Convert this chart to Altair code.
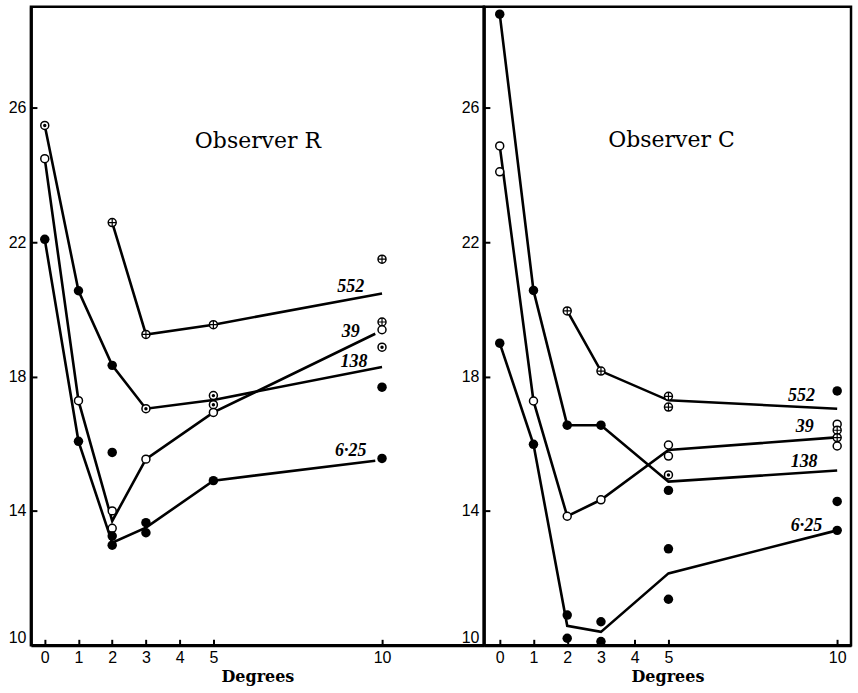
import altair as alt
import pandas as pd

# ---------------- Observer R (left panel) ----------------
R_pts_x = [0, 0, 0,
           1, 1, 1,
           2, 2, 2, 2, 2, 2, 2,
           3, 3, 3, 3, 3,
           5, 5, 5, 5, 5,
           10, 10, 10, 10, 10, 10]
R_pts_y = [25.47, 24.48, 22.08,
           20.55, 17.28, 16.07,
           22.58, 18.33, 15.74, 14.0, 13.48, 13.25, 12.98,
           19.25, 17.04, 15.54, 13.65, 13.35,
           19.54, 17.43, 17.16, 16.93, 14.9,
           21.49, 19.62, 19.39, 18.87, 17.68, 15.56]
R_pts_kind = ["dot", "open", "filled",
              "filled", "open", "filled",
              "plus", "filled", "filled", "open", "open", "filled", "filled",
              "plus", "dot", "open", "filled", "filled",
              "plus", "dot", "dot", "open", "filled",
              "plus", "plus", "open", "dot", "filled", "filled"]

R_line_series = ["552"] * 4 + ["138"] * 6 + ["39"] * 6 + ["6.25"] * 6
R_line_x = [2, 3, 5, 10,
            0, 1, 2, 3, 5, 10,
            0, 1, 2, 3, 5, 9.8,
            0, 1, 2, 3, 5, 9.8]
R_line_y = [22.58, 19.25, 19.54, 20.47,
            25.47, 20.55, 18.33, 17.04, 17.3, 18.28,
            24.48, 17.28, 13.7, 15.54, 16.93, 19.27,
            22.08, 16.07, 13.05, 13.5, 14.9, 15.49]

R_lab_text = ["552", "39", "138", "6·25"]
R_lab_x = [9.07, 9.07, 9.17, 9.07]
R_lab_y = [20.66, 19.32, 18.43, 15.79]

# ---------------- Observer C (right panel) ----------------
C_pts_x = [0, 0, 0, 0,
           1, 1, 1,
           2, 2, 2, 2, 2,
           3, 3, 3, 3, 3,
           5, 5, 5, 5, 5, 5, 5, 5,
           10, 10, 10, 10, 10, 10, 10]
C_pts_y = [28.78, 24.86, 24.09, 18.99,
           20.56, 17.27, 15.98,
           19.95, 16.55, 13.84, 10.9, 10.21,
           18.16, 16.55, 14.33, 10.7, 10.11,
           17.41, 17.09, 15.96, 15.63, 15.07, 14.61, 12.87, 11.37,
           17.57, 16.58, 16.4, 16.18, 15.93, 14.28, 13.42]
C_pts_kind = ["filled", "open", "open", "filled",
              "filled", "open", "filled",
              "plus", "filled", "open", "filled", "filled",
              "plus", "filled", "open", "filled", "filled",
              "plus", "plus", "open", "open", "dot", "filled", "filled", "filled",
              "filled", "open", "plus", "plus", "open", "filled", "filled"]

C_line_series = ["552"] * 4 + ["138"] * 6 + ["39"] * 6 + ["6.25"] * 6
C_line_x = [2, 3, 5, 10,
            0, 1, 2, 3, 5, 10,
            0, 1, 2, 3, 5, 9.88,
            0, 1, 2, 3, 5, 9.88]
C_line_y = [19.95, 18.16, 17.29, 17.04,
            28.78, 20.56, 16.55, 16.55, 14.87, 15.2,
            24.86, 17.27, 13.84, 14.33, 15.81, 16.18,
            18.99, 15.98, 10.58, 10.4, 12.14, 13.39]

C_lab_text = ["552", "39", "138", "6·25"]
C_lab_x = [8.94, 9.04, 9.02, 9.09]
C_lab_y = [17.41, 16.5, 15.46, 13.55]

X_TICKS = [0, 1, 2, 3, 4, 5, 10]
Y_TICKS = [10, 14, 18, 22, 26]
Y_DOMAIN = [10, 29]
H = 640


def panel(px, py, pk, ls, lx, ly, tx, ty, tt, title_text, title_x, title_y, xdom, width):
    xs = alt.Scale(domain=xdom, nice=False, zero=False)
    ys = alt.Scale(domain=Y_DOMAIN, nice=False, zero=False)
    pts = pd.DataFrame({"x": px, "y": py, "kind": pk})
    lines = pd.DataFrame({"series": ls, "x": lx, "y": ly, "ord": list(range(len(lx)))})
    labs = pd.DataFrame({"x": tx, "y": ty, "t": tt})
    ttl = pd.DataFrame({"x": [title_x], "y": [title_y], "t": [title_text]})

    x_main = alt.X("x:Q", scale=xs, axis=alt.Axis(
        orient="bottom", values=X_TICKS, ticks=False, grid=False,
        domainWidth=3, domainColor="black",
        labelFont="Liberation Sans", labelFontSize=16, labelColor="black", labelPadding=4,
        title="Degrees", titleFont="DejaVu Serif", titleFontSize=16, titleFontWeight="bold",
        titleColor="black", titlePadding=3))
    y_main = alt.Y("y:Q", scale=ys, axis=alt.Axis(
        orient="left", values=Y_TICKS, ticks=False, grid=False,
        domainWidth=3, domainColor="black",
        labelFont="Liberation Sans", labelFontSize=16, labelColor="black", labelPadding=5,
        labelFlush=True, minExtent=26, maxExtent=26, title=None))
    x_tick = alt.X("x:Q", scale=xs, axis=alt.Axis(
        orient="top", offset=-H, values=X_TICKS, labels=False, domain=False, grid=False,
        ticks=True, tickSize=6, tickWidth=2, tickColor="black", title=None))
    y_tick = alt.Y("y:Q", scale=ys, axis=alt.Axis(
        orient="right", offset=-width, values=Y_TICKS[1:], labels=False, domain=False, grid=False,
        ticks=True, tickSize=6, tickWidth=2, tickColor="black", title=None))

    xa = alt.X("x:Q", scale=xs, axis=None)
    ya = alt.Y("y:Q", scale=ys, axis=None)

    line_layer = alt.Chart(lines).mark_line(color="black", strokeWidth=2.6).encode(
        x=x_main, y=y_main, detail="series:N", order="ord:Q")
    tick_layer = alt.Chart(pts).mark_point(opacity=0).encode(x=x_tick, y=y_tick)

    base = alt.Chart(pts).encode(x=xa, y=ya)
    filled = base.transform_filter(alt.FieldOneOfPredicate(field="kind", oneOf=["filled"])).mark_circle(
        size=90, color="black", opacity=1)
    ring = base.transform_filter(alt.FieldOneOfPredicate(field="kind", oneOf=["open", "dot", "plus"])).mark_point(
        shape="circle", filled=True, fill="white", stroke="black", strokeWidth=1.5, size=64, opacity=1)
    dot = base.transform_filter(alt.FieldOneOfPredicate(field="kind", oneOf=["dot"])).mark_circle(
        size=12, color="black", opacity=1)
    plus = base.transform_filter(alt.FieldOneOfPredicate(field="kind", oneOf=["plus"])).mark_point(
        shape="M-1,0L1,0M0,-1L0,1", filled=False, stroke="black", strokeWidth=1.2, size=64, opacity=1)

    lab_layer = alt.Chart(labs).mark_text(
        font="Liberation Serif", fontSize=18, fontStyle="italic", fontWeight="bold",
        align="center", baseline="middle", color="black").encode(x=xa, y=ya, text="t:N")
    title_layer = alt.Chart(ttl).mark_text(
        font="DejaVu Serif", fontSize=22, align="center", baseline="alphabetic", color="black").encode(
        x=xa, y=ya, text="t:N")

    return alt.layer(line_layer, tick_layer, ring, filled, dot, plus, lab_layer, title_layer).resolve_axis(
        x="independent", y="independent").properties(width=width, height=H)


left = panel(R_pts_x, R_pts_y, R_pts_kind, R_line_series, R_line_x, R_line_y,
             R_lab_x, R_lab_y, R_lab_text, "Observer R", 6.32, 24.81, [-0.41, 13.02], 454)
right = panel(C_pts_x, C_pts_y, C_pts_kind, C_line_series, C_line_x, C_line_y,
              C_lab_x, C_lab_y, C_lab_text, "Observer C", 5.09, 24.84, [-0.47, 10.41], 368)

chart = alt.hconcat(left, right, spacing=0, bounds="flush").properties(
    padding={"left": 3, "top": 4, "right": 5, "bottom": 5},
    background="white",
).configure_view(stroke="black", strokeWidth=2.5)

chart.save("out.html", embed_options={"renderer": "svg", "actions": False})
